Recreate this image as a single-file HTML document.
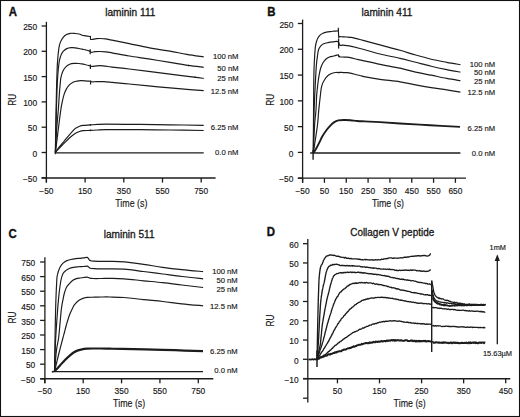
<!DOCTYPE html>
<html><head><meta charset="utf-8"><style>
html,body{margin:0;padding:0;background:#fff;}
body{width:520px;height:417px;overflow:hidden;}
svg{display:block;}
svg text{font-family:"Liberation Sans", sans-serif;}
</style></head><body>
<svg width="520" height="417" viewBox="0 0 520 417">
<rect x="0" y="0" width="520" height="417" fill="#fff"/>
<rect x="0.5" y="0.5" width="519" height="416" fill="none" stroke="#111" stroke-width="1.1"/>
<line x1="46.40" y1="21.80" x2="46.40" y2="182.60" stroke="#1c1c1c" stroke-width="1.30"/>
<line x1="41.60" y1="178.00" x2="215.60" y2="178.00" stroke="#1c1c1c" stroke-width="1.30"/>
<line x1="41.60" y1="26.00" x2="46.40" y2="26.00" stroke="#1c1c1c" stroke-width="1.30"/>
<text transform="translate(23.15,30.14) scale(1.000,1)" font-size="8.40" font-weight="normal" fill="#161616" stroke="#161616" stroke-width="0.15">250</text>
<line x1="41.60" y1="51.30" x2="46.40" y2="51.30" stroke="#1c1c1c" stroke-width="1.30"/>
<text transform="translate(23.15,55.44) scale(1.000,1)" font-size="8.40" font-weight="normal" fill="#161616" stroke="#161616" stroke-width="0.15">200</text>
<line x1="41.60" y1="76.60" x2="46.40" y2="76.60" stroke="#1c1c1c" stroke-width="1.30"/>
<text transform="translate(23.15,80.74) scale(1.000,1)" font-size="8.40" font-weight="normal" fill="#161616" stroke="#161616" stroke-width="0.15">150</text>
<line x1="41.60" y1="101.90" x2="46.40" y2="101.90" stroke="#1c1c1c" stroke-width="1.30"/>
<text transform="translate(23.15,106.04) scale(1.000,1)" font-size="8.40" font-weight="normal" fill="#161616" stroke="#161616" stroke-width="0.15">100</text>
<line x1="41.60" y1="127.20" x2="46.40" y2="127.20" stroke="#1c1c1c" stroke-width="1.30"/>
<text transform="translate(27.81,131.34) scale(1.000,1)" font-size="8.40" font-weight="normal" fill="#161616" stroke="#161616" stroke-width="0.15">50</text>
<line x1="41.60" y1="152.50" x2="46.40" y2="152.50" stroke="#1c1c1c" stroke-width="1.30"/>
<text transform="translate(32.47,156.64) scale(1.000,1)" font-size="8.40" font-weight="normal" fill="#161616" stroke="#161616" stroke-width="0.15">0</text>
<line x1="41.60" y1="177.80" x2="46.40" y2="177.80" stroke="#1c1c1c" stroke-width="1.30"/>
<text transform="translate(22.90,181.94) scale(1.000,1)" font-size="8.40" font-weight="normal" fill="#161616" stroke="#161616" stroke-width="0.15">&#8722;50</text>
<line x1="46.40" y1="178.00" x2="46.40" y2="182.60" stroke="#1c1c1c" stroke-width="1.30"/>
<text transform="translate(39.24,193.54) scale(1.000,1)" font-size="8.40" font-weight="normal" fill="#161616" stroke="#161616" stroke-width="0.15">&#8722;50</text>
<line x1="85.10" y1="178.00" x2="85.10" y2="182.60" stroke="#1c1c1c" stroke-width="1.30"/>
<text transform="translate(77.96,193.54) scale(1.000,1)" font-size="8.40" font-weight="normal" fill="#161616" stroke="#161616" stroke-width="0.15">150</text>
<line x1="123.80" y1="178.00" x2="123.80" y2="182.60" stroke="#1c1c1c" stroke-width="1.30"/>
<text transform="translate(116.81,193.54) scale(1.000,1)" font-size="8.40" font-weight="normal" fill="#161616" stroke="#161616" stroke-width="0.15">350</text>
<line x1="162.50" y1="178.00" x2="162.50" y2="182.60" stroke="#1c1c1c" stroke-width="1.30"/>
<text transform="translate(155.51,193.54) scale(1.000,1)" font-size="8.40" font-weight="normal" fill="#161616" stroke="#161616" stroke-width="0.15">550</text>
<line x1="201.20" y1="178.00" x2="201.20" y2="182.60" stroke="#1c1c1c" stroke-width="1.30"/>
<text transform="translate(194.17,193.54) scale(1.000,1)" font-size="8.40" font-weight="normal" fill="#161616" stroke="#161616" stroke-width="0.15">750</text>
<text transform="translate(8.71,15.81) scale(0.960,1)" font-size="11.90" font-weight="bold" fill="#111" stroke="#111" stroke-width="0.35">A</text>
<text transform="translate(105.24,15.66) scale(1.000,1)" font-size="10.10" font-weight="normal" fill="#161616" stroke="#161616" stroke-width="0.30">laminin 111</text>
<text transform="translate(115.22,206.93) scale(0.860,1)" font-size="10.30" font-weight="normal" fill="#161616" stroke="#161616" stroke-width="0.15">Time (s)</text>
<text transform="translate(12.10,99.80) rotate(-90) scale(0.800,1)" x="-7.51" y="3.59" font-size="10.40" fill="#161616" stroke="#161616" stroke-width="0.15">RU</text>
<path d="M55.40,152.60 C55.45,148.83 55.58,137.10 55.70,130.00 C55.82,122.90 55.97,116.67 56.10,110.00 C56.23,103.33 56.33,96.67 56.50,90.00 C56.67,83.33 56.88,75.33 57.10,70.00 C57.32,64.67 57.50,61.65 57.80,58.00 C58.10,54.35 58.48,50.70 58.90,48.10 C59.32,45.50 59.58,44.18 60.30,42.40 C61.02,40.62 62.17,38.70 63.20,37.40 C64.23,36.10 65.30,35.28 66.50,34.60 C67.70,33.92 68.98,33.48 70.40,33.30 C71.82,33.12 73.40,33.33 75.00,33.50 C76.60,33.67 78.83,34.02 80.00,34.30 C81.17,34.58 81.07,34.95 82.00,35.20 C82.93,35.45 84.28,35.58 85.60,35.80 C86.92,36.02 89.08,36.38 89.90,36.50 C90.72,36.62 90.40,36.05 90.50,36.50 C90.60,36.95 90.23,38.72 90.50,39.20 C90.77,39.68 91.12,39.48 92.10,39.40 C93.08,39.32 94.97,38.85 96.40,38.70 C97.83,38.55 99.15,38.47 100.70,38.50 C102.25,38.53 103.82,38.62 105.70,38.90 C107.58,39.18 108.08,39.42 112.00,40.20 C115.92,40.98 123.12,42.35 129.20,43.60 C135.28,44.85 141.70,46.43 148.50,47.70 C155.30,48.97 163.62,50.10 170.00,51.20 C176.38,52.30 181.18,53.37 186.80,54.30 C192.42,55.23 200.88,56.38 203.70,56.80" fill="none" stroke="#1c1c1c" stroke-width="1.18" stroke-linejoin="round" stroke-linecap="butt"/>
<path d="M55.40,152.60 C55.48,148.83 55.73,137.10 55.90,130.00 C56.07,122.90 56.22,116.67 56.40,110.00 C56.58,103.33 56.77,95.83 57.00,90.00 C57.23,84.17 57.47,79.50 57.80,75.00 C58.13,70.50 58.60,65.92 59.00,63.00 C59.40,60.08 59.78,59.00 60.20,57.50 C60.62,56.00 60.97,55.05 61.50,54.00 C62.03,52.95 62.52,52.10 63.40,51.20 C64.28,50.30 65.52,49.18 66.80,48.60 C68.08,48.02 69.73,47.83 71.10,47.70 C72.47,47.57 73.18,47.55 75.00,47.80 C76.82,48.05 80.23,48.85 82.00,49.20 C83.77,49.55 84.40,49.62 85.60,49.90 C86.80,50.18 88.23,50.50 89.20,50.90 C90.17,51.30 90.43,52.17 91.40,52.30 C92.37,52.43 93.57,51.83 95.00,51.70 C96.43,51.57 98.22,51.48 100.00,51.50 C101.78,51.52 103.70,51.58 105.70,51.80 C107.70,52.02 108.08,52.10 112.00,52.80 C115.92,53.50 123.12,54.98 129.20,56.00 C135.28,57.02 141.70,57.83 148.50,58.90 C155.30,59.97 163.42,61.32 170.00,62.40 C176.58,63.48 182.38,64.58 188.00,65.40 C193.62,66.22 201.08,66.98 203.70,67.30" fill="none" stroke="#1c1c1c" stroke-width="1.18" stroke-linejoin="round" stroke-linecap="butt"/>
<path d="M55.40,152.60 C55.60,148.83 56.12,137.10 56.60,130.00 C57.08,122.90 57.82,116.33 58.30,110.00 C58.78,103.67 59.18,96.33 59.50,92.00 C59.82,87.67 59.95,86.47 60.20,84.00 C60.45,81.53 60.50,79.43 61.00,77.20 C61.50,74.97 62.35,72.35 63.20,70.60 C64.05,68.85 65.02,67.75 66.10,66.70 C67.18,65.65 68.38,64.85 69.70,64.30 C71.02,63.75 72.45,63.53 74.00,63.40 C75.55,63.27 77.67,63.42 79.00,63.50 C80.33,63.58 80.90,63.70 82.00,63.90 C83.10,64.10 84.40,64.42 85.60,64.70 C86.80,64.98 88.12,65.32 89.20,65.60 C90.28,65.88 90.90,66.35 92.10,66.40 C93.30,66.45 94.97,66.02 96.40,65.90 C97.83,65.78 99.15,65.65 100.70,65.70 C102.25,65.75 103.82,65.97 105.70,66.20 C107.58,66.43 108.08,66.63 112.00,67.10 C115.92,67.57 123.12,68.28 129.20,69.00 C135.28,69.72 141.70,70.55 148.50,71.40 C155.30,72.25 162.42,73.15 170.00,74.10 C177.58,75.05 188.38,76.38 194.00,77.10 C199.62,77.82 202.08,78.18 203.70,78.40" fill="none" stroke="#1c1c1c" stroke-width="1.18" stroke-linejoin="round" stroke-linecap="butt"/>
<path d="M55.40,152.60 C55.87,148.83 57.30,137.10 58.20,130.00 C59.10,122.90 60.12,114.73 60.80,110.00 C61.48,105.27 61.75,104.20 62.30,101.60 C62.85,99.00 63.45,96.43 64.10,94.40 C64.75,92.37 65.37,90.93 66.20,89.40 C67.03,87.87 68.03,86.37 69.10,85.20 C70.17,84.03 71.28,83.08 72.60,82.40 C73.92,81.72 75.68,81.40 77.00,81.10 C78.32,80.80 79.07,80.65 80.50,80.60 C81.93,80.55 84.15,80.70 85.60,80.80 C87.05,80.90 88.00,81.03 89.20,81.20 C90.40,81.37 91.60,81.73 92.80,81.80 C94.00,81.87 94.60,81.63 96.40,81.60 C98.20,81.57 101.00,81.48 103.60,81.60 C106.20,81.72 107.73,81.90 112.00,82.30 C116.27,82.70 123.12,83.40 129.20,84.00 C135.28,84.60 141.70,85.25 148.50,85.90 C155.30,86.55 163.60,87.32 170.00,87.90 C176.40,88.48 181.28,88.93 186.90,89.40 C192.52,89.87 200.90,90.48 203.70,90.70" fill="none" stroke="#1c1c1c" stroke-width="1.18" stroke-linejoin="round" stroke-linecap="butt"/>
<path d="M55.40,152.40 C55.93,151.63 57.17,149.65 58.60,147.80 C60.03,145.95 62.20,143.47 64.00,141.30 C65.80,139.13 67.60,136.87 69.40,134.80 C71.20,132.73 73.62,130.07 74.80,128.90 C75.98,127.73 75.70,128.25 76.50,127.80 C77.30,127.35 78.48,126.60 79.60,126.20 C80.72,125.80 81.40,125.62 83.20,125.40 C85.00,125.18 88.00,125.07 90.40,124.90 C92.80,124.73 95.00,124.52 97.60,124.40 C100.20,124.28 98.93,124.20 106.00,124.20 C113.07,124.20 129.33,124.30 140.00,124.40 C150.67,124.50 159.38,124.63 170.00,124.80 C180.62,124.97 198.08,125.30 203.70,125.40" fill="none" stroke="#1c1c1c" stroke-width="1.18" stroke-linejoin="round" stroke-linecap="butt"/>
<path d="M55.40,152.40 C55.93,151.80 57.17,150.30 58.60,148.80 C60.03,147.30 62.20,145.20 64.00,143.40 C65.80,141.60 67.60,139.62 69.40,138.00 C71.20,136.38 73.10,134.78 74.80,133.70 C76.50,132.62 78.20,132.00 79.60,131.50 C81.00,131.00 81.40,130.88 83.20,130.70 C85.00,130.52 88.00,130.52 90.40,130.40 C92.80,130.28 95.00,130.12 97.60,130.00 C100.20,129.88 98.93,129.75 106.00,129.70 C113.07,129.65 129.33,129.65 140.00,129.70 C150.67,129.75 159.38,129.87 170.00,130.00 C180.62,130.13 198.08,130.42 203.70,130.50" fill="none" stroke="#1c1c1c" stroke-width="1.18" stroke-linejoin="round" stroke-linecap="butt"/>
<line x1="90.20" y1="49.30" x2="90.20" y2="54.30" stroke="#1c1c1c" stroke-width="1.20"/>
<line x1="90.40" y1="64.40" x2="90.40" y2="69.00" stroke="#1c1c1c" stroke-width="1.20"/>
<line x1="90.60" y1="80.50" x2="90.60" y2="84.50" stroke="#1c1c1c" stroke-width="1.20"/>
<circle cx="90.40" cy="130.40" r="0.8" fill="#1c1c1c"/>
<circle cx="90.40" cy="124.90" r="0.8" fill="#1c1c1c"/>
<circle cx="188.60" cy="65.60" r="0.8" fill="#1c1c1c"/>
<circle cx="195.00" cy="77.30" r="0.8" fill="#1c1c1c"/>
<line x1="55.40" y1="152.80" x2="203.70" y2="152.80" stroke="#1c1c1c" stroke-width="1.30"/>
<line x1="55.30" y1="151.50" x2="55.30" y2="154.30" stroke="#1c1c1c" stroke-width="1.20"/>
<text transform="translate(212.96,59.27) scale(0.970,1)" font-size="7.90" font-weight="normal" fill="#161616" stroke="#161616" stroke-width="0.15">100 nM</text>
<text transform="translate(217.25,70.56) scale(0.970,1)" font-size="7.90" font-weight="normal" fill="#161616" stroke="#161616" stroke-width="0.15">50 nM</text>
<text transform="translate(217.25,80.97) scale(0.970,1)" font-size="7.90" font-weight="normal" fill="#161616" stroke="#161616" stroke-width="0.15">25 nM</text>
<text transform="translate(210.85,93.77) scale(0.970,1)" font-size="7.90" font-weight="normal" fill="#161616" stroke="#161616" stroke-width="0.15">12.5 nM</text>
<text transform="translate(210.85,130.36) scale(0.970,1)" font-size="7.90" font-weight="normal" fill="#161616" stroke="#161616" stroke-width="0.15">6.25 nM</text>
<text transform="translate(215.10,154.86) scale(0.970,1)" font-size="7.90" font-weight="normal" fill="#161616" stroke="#161616" stroke-width="0.15">0.0 nM</text>
<line x1="302.60" y1="19.60" x2="302.60" y2="182.60" stroke="#1c1c1c" stroke-width="1.30"/>
<line x1="297.90" y1="178.20" x2="466.00" y2="178.20" stroke="#1c1c1c" stroke-width="1.30"/>
<line x1="297.80" y1="23.50" x2="302.60" y2="23.50" stroke="#1c1c1c" stroke-width="1.30"/>
<text transform="translate(279.45,27.64) scale(1.000,1)" font-size="8.40" font-weight="normal" fill="#161616" stroke="#161616" stroke-width="0.15">250</text>
<line x1="297.80" y1="49.28" x2="302.60" y2="49.28" stroke="#1c1c1c" stroke-width="1.30"/>
<text transform="translate(279.45,53.42) scale(1.000,1)" font-size="8.40" font-weight="normal" fill="#161616" stroke="#161616" stroke-width="0.15">200</text>
<line x1="297.80" y1="75.06" x2="302.60" y2="75.06" stroke="#1c1c1c" stroke-width="1.30"/>
<text transform="translate(279.45,79.20) scale(1.000,1)" font-size="8.40" font-weight="normal" fill="#161616" stroke="#161616" stroke-width="0.15">150</text>
<line x1="297.80" y1="100.84" x2="302.60" y2="100.84" stroke="#1c1c1c" stroke-width="1.30"/>
<text transform="translate(279.45,104.98) scale(1.000,1)" font-size="8.40" font-weight="normal" fill="#161616" stroke="#161616" stroke-width="0.15">100</text>
<line x1="297.80" y1="126.62" x2="302.60" y2="126.62" stroke="#1c1c1c" stroke-width="1.30"/>
<text transform="translate(284.11,130.76) scale(1.000,1)" font-size="8.40" font-weight="normal" fill="#161616" stroke="#161616" stroke-width="0.15">50</text>
<line x1="297.80" y1="152.40" x2="302.60" y2="152.40" stroke="#1c1c1c" stroke-width="1.30"/>
<text transform="translate(288.77,156.54) scale(1.000,1)" font-size="8.40" font-weight="normal" fill="#161616" stroke="#161616" stroke-width="0.15">0</text>
<line x1="297.80" y1="178.18" x2="302.60" y2="178.18" stroke="#1c1c1c" stroke-width="1.30"/>
<text transform="translate(279.20,182.32) scale(1.000,1)" font-size="8.40" font-weight="normal" fill="#161616" stroke="#161616" stroke-width="0.15">&#8722;50</text>
<line x1="302.60" y1="178.20" x2="302.60" y2="182.80" stroke="#1c1c1c" stroke-width="1.30"/>
<text transform="translate(295.44,193.54) scale(1.000,1)" font-size="8.40" font-weight="normal" fill="#161616" stroke="#161616" stroke-width="0.15">&#8722;50</text>
<line x1="324.43" y1="178.20" x2="324.43" y2="182.80" stroke="#1c1c1c" stroke-width="1.30"/>
<text transform="translate(319.77,193.54) scale(1.000,1)" font-size="8.40" font-weight="normal" fill="#161616" stroke="#161616" stroke-width="0.15">50</text>
<line x1="346.26" y1="178.20" x2="346.26" y2="182.80" stroke="#1c1c1c" stroke-width="1.30"/>
<text transform="translate(339.12,193.54) scale(1.000,1)" font-size="8.40" font-weight="normal" fill="#161616" stroke="#161616" stroke-width="0.15">150</text>
<line x1="368.09" y1="178.20" x2="368.09" y2="182.80" stroke="#1c1c1c" stroke-width="1.30"/>
<text transform="translate(361.06,193.54) scale(1.000,1)" font-size="8.40" font-weight="normal" fill="#161616" stroke="#161616" stroke-width="0.15">250</text>
<line x1="389.92" y1="178.20" x2="389.92" y2="182.80" stroke="#1c1c1c" stroke-width="1.30"/>
<text transform="translate(382.93,193.54) scale(1.000,1)" font-size="8.40" font-weight="normal" fill="#161616" stroke="#161616" stroke-width="0.15">350</text>
<line x1="411.75" y1="178.20" x2="411.75" y2="182.80" stroke="#1c1c1c" stroke-width="1.30"/>
<text transform="translate(404.82,193.54) scale(1.000,1)" font-size="8.40" font-weight="normal" fill="#161616" stroke="#161616" stroke-width="0.15">450</text>
<line x1="433.58" y1="178.20" x2="433.58" y2="182.80" stroke="#1c1c1c" stroke-width="1.30"/>
<text transform="translate(426.59,193.54) scale(1.000,1)" font-size="8.40" font-weight="normal" fill="#161616" stroke="#161616" stroke-width="0.15">550</text>
<line x1="455.41" y1="178.20" x2="455.41" y2="182.80" stroke="#1c1c1c" stroke-width="1.30"/>
<text transform="translate(448.38,193.54) scale(1.000,1)" font-size="8.40" font-weight="normal" fill="#161616" stroke="#161616" stroke-width="0.15">650</text>
<text transform="translate(267.16,15.81) scale(0.960,1)" font-size="11.90" font-weight="bold" fill="#111" stroke="#111" stroke-width="0.35">B</text>
<text transform="translate(361.54,15.66) scale(1.000,1)" font-size="10.10" font-weight="normal" fill="#161616" stroke="#161616" stroke-width="0.30">laminin 411</text>
<text transform="translate(371.92,207.03) scale(0.860,1)" font-size="10.30" font-weight="normal" fill="#161616" stroke="#161616" stroke-width="0.15">Time (s)</text>
<text transform="translate(270.80,99.80) rotate(-90) scale(0.800,1)" x="-7.51" y="3.59" font-size="10.40" fill="#161616" stroke="#161616" stroke-width="0.15">RU</text>
<path d="M313.30,152.80 C313.33,147.33 313.43,130.47 313.50,120.00 C313.57,109.53 313.62,98.33 313.70,90.00 C313.78,81.67 313.83,75.83 314.00,70.00 C314.17,64.17 314.47,58.90 314.70,55.00 C314.93,51.10 315.10,48.85 315.40,46.60 C315.70,44.35 316.08,42.93 316.50,41.50 C316.92,40.07 317.30,39.07 317.90,38.00 C318.50,36.93 319.27,35.88 320.10,35.10 C320.93,34.32 321.83,33.78 322.90,33.30 C323.97,32.82 325.05,32.50 326.50,32.20 C327.95,31.90 330.35,31.68 331.60,31.50 C332.85,31.32 332.95,31.22 334.00,31.10 C335.05,30.98 337.18,31.25 337.90,30.80 C338.62,30.35 338.17,27.37 338.30,28.40 C338.43,29.43 338.52,35.62 338.70,37.00 C338.88,38.38 338.75,36.73 339.40,36.70 C340.05,36.67 341.33,36.75 342.60,36.80 C343.87,36.85 345.55,36.90 347.00,37.00 C348.45,37.10 349.87,37.17 351.30,37.40 C352.73,37.63 354.17,38.05 355.60,38.40 C357.03,38.75 358.50,39.13 359.90,39.50 C361.30,39.87 360.65,39.70 364.00,40.60 C367.35,41.50 374.00,43.28 380.00,44.90 C386.00,46.52 394.07,48.62 400.00,50.30 C405.93,51.98 410.40,53.52 415.60,55.00 C420.80,56.48 426.00,57.98 431.20,59.20 C436.40,60.42 441.93,61.38 446.80,62.30 C451.67,63.22 458.13,64.30 460.40,64.70" fill="none" stroke="#1c1c1c" stroke-width="1.18" stroke-linejoin="round" stroke-linecap="butt"/>
<path d="M313.30,152.80 C313.38,147.33 313.60,128.80 313.80,120.00 C314.00,111.20 314.23,106.33 314.50,100.00 C314.77,93.67 315.08,87.83 315.40,82.00 C315.72,76.17 316.03,69.50 316.40,65.00 C316.77,60.50 317.23,57.58 317.60,55.00 C317.97,52.42 318.07,51.02 318.60,49.50 C319.13,47.98 319.95,46.87 320.80,45.90 C321.65,44.93 322.50,44.25 323.70,43.70 C324.90,43.15 326.45,42.90 328.00,42.60 C329.55,42.30 331.33,42.07 333.00,41.90 C334.67,41.73 336.87,41.05 338.00,41.60 C339.13,42.15 339.03,44.60 339.80,45.20 C340.57,45.80 341.40,45.13 342.60,45.20 C343.80,45.27 345.55,45.42 347.00,45.60 C348.45,45.78 349.87,46.00 351.30,46.30 C352.73,46.60 354.17,47.03 355.60,47.40 C357.03,47.77 358.50,48.15 359.90,48.50 C361.30,48.85 360.65,48.58 364.00,49.50 C367.35,50.42 374.00,52.52 380.00,54.00 C386.00,55.48 394.07,57.02 400.00,58.40 C405.93,59.78 410.40,61.00 415.60,62.30 C420.80,63.60 426.00,64.98 431.20,66.20 C436.40,67.42 441.93,68.60 446.80,69.60 C451.67,70.60 458.13,71.77 460.40,72.20" fill="none" stroke="#1c1c1c" stroke-width="1.18" stroke-linejoin="round" stroke-linecap="butt"/>
<path d="M313.30,152.80 C313.52,148.17 314.15,132.13 314.60,125.00 C315.05,117.87 315.67,114.83 316.00,110.00 C316.33,105.17 316.37,99.67 316.60,96.00 C316.83,92.33 317.13,90.50 317.40,88.00 C317.67,85.50 317.87,83.40 318.20,81.00 C318.53,78.60 318.97,75.80 319.40,73.60 C319.83,71.40 320.20,69.60 320.80,67.80 C321.40,66.00 322.17,64.23 323.00,62.80 C323.83,61.37 324.73,60.17 325.80,59.20 C326.87,58.23 328.08,57.53 329.40,57.00 C330.72,56.47 332.33,56.33 333.70,56.00 C335.07,55.67 336.83,55.20 337.60,55.00 C338.37,54.80 338.00,54.50 338.30,54.80 C338.60,55.10 338.68,56.43 339.40,56.80 C340.12,57.17 341.33,56.93 342.60,57.00 C343.87,57.07 345.55,57.05 347.00,57.20 C348.45,57.35 349.87,57.60 351.30,57.90 C352.73,58.20 354.17,58.67 355.60,59.00 C357.03,59.33 358.50,59.60 359.90,59.90 C361.30,60.20 360.65,60.05 364.00,60.80 C367.35,61.55 374.00,63.17 380.00,64.40 C386.00,65.63 394.07,66.92 400.00,68.20 C405.93,69.48 410.40,70.93 415.60,72.10 C420.80,73.27 426.00,74.15 431.20,75.20 C436.40,76.25 441.93,77.48 446.80,78.40 C451.67,79.32 458.13,80.32 460.40,80.70" fill="none" stroke="#1c1c1c" stroke-width="1.18" stroke-linejoin="round" stroke-linecap="butt"/>
<path d="M313.30,152.80 C313.68,150.33 314.88,142.80 315.60,138.00 C316.32,133.20 317.12,128.17 317.60,124.00 C318.08,119.83 318.22,116.17 318.50,113.00 C318.78,109.83 319.00,107.83 319.30,105.00 C319.60,102.17 319.98,98.73 320.30,96.00 C320.62,93.27 320.82,90.70 321.20,88.60 C321.58,86.50 322.03,84.87 322.60,83.40 C323.17,81.93 324.03,80.75 324.60,79.80 C325.17,78.85 325.32,78.50 326.00,77.70 C326.68,76.90 327.65,75.75 328.70,75.00 C329.75,74.25 331.10,73.62 332.30,73.20 C333.50,72.78 334.82,72.62 335.90,72.50 C336.98,72.38 337.92,72.53 338.80,72.50 C339.68,72.47 339.83,72.27 341.20,72.30 C342.57,72.33 345.32,72.52 347.00,72.70 C348.68,72.88 349.87,73.10 351.30,73.40 C352.73,73.70 354.17,74.15 355.60,74.50 C357.03,74.85 358.50,75.15 359.90,75.50 C361.30,75.85 360.65,75.97 364.00,76.60 C367.35,77.23 374.00,78.43 380.00,79.30 C386.00,80.17 394.07,80.87 400.00,81.80 C405.93,82.73 410.40,83.93 415.60,84.90 C420.80,85.87 426.00,86.77 431.20,87.60 C436.40,88.43 441.93,89.15 446.80,89.90 C451.67,90.65 458.13,91.73 460.40,92.10" fill="none" stroke="#1c1c1c" stroke-width="1.18" stroke-linejoin="round" stroke-linecap="butt"/>
<path d="M313.60,152.80 C314.10,151.97 315.62,149.58 316.60,147.80 C317.58,146.02 318.53,144.02 319.50,142.10 C320.47,140.18 321.28,138.23 322.40,136.30 C323.52,134.37 324.92,132.25 326.20,130.50 C327.48,128.75 328.82,127.15 330.10,125.80 C331.38,124.45 332.53,123.30 333.90,122.40 C335.27,121.50 336.58,120.80 338.30,120.40 C340.02,120.00 342.18,120.03 344.20,120.00 C346.22,119.97 348.22,120.03 350.40,120.20 C352.58,120.37 354.87,120.80 357.30,121.00 C359.73,121.20 361.22,121.22 365.00,121.40 C368.78,121.58 374.17,121.75 380.00,122.10 C385.83,122.45 391.67,122.98 400.00,123.50 C408.33,124.02 420.00,124.63 430.00,125.20 C440.00,125.77 455.00,126.62 460.00,126.90" fill="none" stroke="#1c1c1c" stroke-width="1.90" stroke-linejoin="round" stroke-linecap="butt"/>
<line x1="338.60" y1="38.50" x2="338.60" y2="48.60" stroke="#1c1c1c" stroke-width="1.30"/>
<circle cx="338.90" cy="56.30" r="0.85" fill="#1c1c1c"/>
<circle cx="338.80" cy="72.60" r="0.85" fill="#1c1c1c"/>
<line x1="310.20" y1="153.00" x2="460.40" y2="153.00" stroke="#1c1c1c" stroke-width="1.30"/>
<line x1="313.10" y1="150.00" x2="313.10" y2="159.80" stroke="#1c1c1c" stroke-width="1.40"/>
<text transform="translate(469.66,67.06) scale(0.970,1)" font-size="7.90" font-weight="normal" fill="#161616" stroke="#161616" stroke-width="0.15">100 nM</text>
<text transform="translate(473.95,75.47) scale(0.970,1)" font-size="7.90" font-weight="normal" fill="#161616" stroke="#161616" stroke-width="0.15">50 nM</text>
<text transform="translate(473.95,83.97) scale(0.970,1)" font-size="7.90" font-weight="normal" fill="#161616" stroke="#161616" stroke-width="0.15">25 nM</text>
<text transform="translate(467.55,95.06) scale(0.970,1)" font-size="7.90" font-weight="normal" fill="#161616" stroke="#161616" stroke-width="0.15">12.5 nM</text>
<text transform="translate(467.55,131.06) scale(0.970,1)" font-size="7.90" font-weight="normal" fill="#161616" stroke="#161616" stroke-width="0.15">6.25 nM</text>
<text transform="translate(471.80,156.26) scale(0.970,1)" font-size="7.90" font-weight="normal" fill="#161616" stroke="#161616" stroke-width="0.15">0.0 nM</text>
<line x1="44.90" y1="257.30" x2="44.90" y2="383.20" stroke="#1c1c1c" stroke-width="1.30"/>
<line x1="40.30" y1="378.75" x2="213.30" y2="378.75" stroke="#1c1c1c" stroke-width="1.30"/>
<line x1="40.10" y1="262.00" x2="44.90" y2="262.00" stroke="#1c1c1c" stroke-width="1.30"/>
<text transform="translate(21.25,266.24) scale(1.000,1)" font-size="8.40" font-weight="normal" fill="#161616" stroke="#161616" stroke-width="0.15">750</text>
<line x1="40.10" y1="276.60" x2="44.90" y2="276.60" stroke="#1c1c1c" stroke-width="1.30"/>
<text transform="translate(21.25,280.84) scale(1.000,1)" font-size="8.40" font-weight="normal" fill="#161616" stroke="#161616" stroke-width="0.15">650</text>
<line x1="40.10" y1="291.20" x2="44.90" y2="291.20" stroke="#1c1c1c" stroke-width="1.30"/>
<text transform="translate(21.25,295.44) scale(1.000,1)" font-size="8.40" font-weight="normal" fill="#161616" stroke="#161616" stroke-width="0.15">550</text>
<line x1="40.10" y1="305.80" x2="44.90" y2="305.80" stroke="#1c1c1c" stroke-width="1.30"/>
<text transform="translate(21.25,310.04) scale(1.000,1)" font-size="8.40" font-weight="normal" fill="#161616" stroke="#161616" stroke-width="0.15">450</text>
<line x1="40.10" y1="320.40" x2="44.90" y2="320.40" stroke="#1c1c1c" stroke-width="1.30"/>
<text transform="translate(21.25,324.64) scale(1.000,1)" font-size="8.40" font-weight="normal" fill="#161616" stroke="#161616" stroke-width="0.15">350</text>
<line x1="40.10" y1="335.00" x2="44.90" y2="335.00" stroke="#1c1c1c" stroke-width="1.30"/>
<text transform="translate(21.25,339.24) scale(1.000,1)" font-size="8.40" font-weight="normal" fill="#161616" stroke="#161616" stroke-width="0.15">250</text>
<line x1="40.10" y1="349.60" x2="44.90" y2="349.60" stroke="#1c1c1c" stroke-width="1.30"/>
<text transform="translate(21.25,353.84) scale(1.000,1)" font-size="8.40" font-weight="normal" fill="#161616" stroke="#161616" stroke-width="0.15">150</text>
<line x1="40.10" y1="364.20" x2="44.90" y2="364.20" stroke="#1c1c1c" stroke-width="1.30"/>
<text transform="translate(25.91,368.44) scale(1.000,1)" font-size="8.40" font-weight="normal" fill="#161616" stroke="#161616" stroke-width="0.15">50</text>
<line x1="40.10" y1="378.80" x2="44.90" y2="378.80" stroke="#1c1c1c" stroke-width="1.30"/>
<text transform="translate(21.00,383.04) scale(1.000,1)" font-size="8.40" font-weight="normal" fill="#161616" stroke="#161616" stroke-width="0.15">&#8722;50</text>
<line x1="44.80" y1="378.75" x2="44.80" y2="383.35" stroke="#1c1c1c" stroke-width="1.30"/>
<text transform="translate(37.64,394.14) scale(1.000,1)" font-size="8.40" font-weight="normal" fill="#161616" stroke="#161616" stroke-width="0.15">&#8722;50</text>
<line x1="83.18" y1="378.75" x2="83.18" y2="383.35" stroke="#1c1c1c" stroke-width="1.30"/>
<text transform="translate(76.04,394.14) scale(1.000,1)" font-size="8.40" font-weight="normal" fill="#161616" stroke="#161616" stroke-width="0.15">150</text>
<line x1="121.55" y1="378.75" x2="121.55" y2="383.35" stroke="#1c1c1c" stroke-width="1.30"/>
<text transform="translate(114.56,394.14) scale(1.000,1)" font-size="8.40" font-weight="normal" fill="#161616" stroke="#161616" stroke-width="0.15">350</text>
<line x1="159.93" y1="378.75" x2="159.93" y2="383.35" stroke="#1c1c1c" stroke-width="1.30"/>
<text transform="translate(152.94,394.14) scale(1.000,1)" font-size="8.40" font-weight="normal" fill="#161616" stroke="#161616" stroke-width="0.15">550</text>
<line x1="198.30" y1="378.75" x2="198.30" y2="383.35" stroke="#1c1c1c" stroke-width="1.30"/>
<text transform="translate(191.27,394.14) scale(1.000,1)" font-size="8.40" font-weight="normal" fill="#161616" stroke="#161616" stroke-width="0.15">750</text>
<text transform="translate(8.54,237.56) scale(0.960,1)" font-size="11.90" font-weight="bold" fill="#111" stroke="#111" stroke-width="0.35">C</text>
<text transform="translate(103.64,237.86) scale(1.000,1)" font-size="10.10" font-weight="normal" fill="#161616" stroke="#161616" stroke-width="0.30">laminin 511</text>
<text transform="translate(113.12,407.23) scale(0.860,1)" font-size="10.30" font-weight="normal" fill="#161616" stroke="#161616" stroke-width="0.15">Time (s)</text>
<text transform="translate(12.00,317.60) rotate(-90) scale(0.800,1)" x="-7.51" y="3.59" font-size="10.40" fill="#161616" stroke="#161616" stroke-width="0.15">RU</text>
<path d="M54.60,371.00 C54.67,365.83 54.83,350.17 55.00,340.00 C55.17,329.83 55.42,317.60 55.60,310.00 C55.78,302.40 55.90,299.40 56.10,294.40 C56.30,289.40 56.62,283.07 56.80,280.00 C56.98,276.93 56.92,277.50 57.20,276.00 C57.48,274.50 57.98,272.55 58.50,271.00 C59.02,269.45 59.58,267.97 60.30,266.70 C61.02,265.43 61.78,264.37 62.80,263.40 C63.82,262.43 65.08,261.55 66.40,260.90 C67.72,260.25 69.15,259.88 70.70,259.50 C72.25,259.12 74.15,258.80 75.70,258.60 C77.25,258.40 78.68,258.42 80.00,258.30 C81.32,258.18 82.40,258.05 83.60,257.90 C84.80,257.75 86.42,257.30 87.20,257.40 C87.98,257.50 87.88,258.02 88.30,258.50 C88.72,258.98 89.17,259.88 89.70,260.30 C90.23,260.72 90.72,260.85 91.50,261.00 C92.28,261.15 92.72,261.13 94.40,261.20 C96.08,261.27 99.00,261.37 101.60,261.40 C104.20,261.43 106.23,261.32 110.00,261.40 C113.77,261.48 118.62,261.40 124.20,261.90 C129.78,262.40 137.08,263.50 143.50,264.40 C149.92,265.30 156.30,266.43 162.70,267.30 C169.10,268.17 175.17,268.88 181.90,269.60 C188.63,270.32 199.57,271.27 203.10,271.60" fill="none" stroke="#1c1c1c" stroke-width="1.18" stroke-linejoin="round" stroke-linecap="butt"/>
<path d="M54.60,371.00 C54.77,365.83 55.10,350.17 55.60,340.00 C56.10,329.83 57.15,316.40 57.60,310.00 C58.05,303.60 58.00,304.80 58.30,301.60 C58.60,298.40 58.95,294.40 59.40,290.80 C59.85,287.20 60.43,282.82 61.00,280.00 C61.57,277.18 62.02,275.47 62.80,273.90 C63.58,272.33 64.62,271.50 65.70,270.60 C66.78,269.70 67.98,269.03 69.30,268.50 C70.62,267.97 72.17,267.68 73.60,267.40 C75.03,267.12 76.83,266.93 77.90,266.80 C78.97,266.67 79.05,266.65 80.00,266.60 C80.95,266.55 82.40,266.57 83.60,266.50 C84.80,266.43 86.37,266.10 87.20,266.20 C88.03,266.30 88.12,266.77 88.60,267.10 C89.08,267.43 89.13,267.93 90.10,268.20 C91.07,268.47 92.48,268.58 94.40,268.70 C96.32,268.82 99.00,268.88 101.60,268.90 C104.20,268.92 106.23,268.75 110.00,268.80 C113.77,268.85 118.62,268.75 124.20,269.20 C129.78,269.65 137.08,270.70 143.50,271.50 C149.92,272.30 156.30,273.17 162.70,274.00 C169.10,274.83 175.17,275.70 181.90,276.50 C188.63,277.30 199.57,278.42 203.10,278.80" fill="none" stroke="#1c1c1c" stroke-width="1.18" stroke-linejoin="round" stroke-linecap="butt"/>
<path d="M54.60,371.00 C54.92,367.50 55.83,355.50 56.50,350.00 C57.17,344.50 58.00,342.60 58.60,338.00 C59.20,333.40 59.62,327.40 60.10,322.40 C60.58,317.40 61.03,311.72 61.50,308.00 C61.97,304.28 62.42,302.60 62.90,300.10 C63.38,297.60 63.80,295.15 64.40,293.00 C65.00,290.85 65.67,288.77 66.50,287.20 C67.33,285.63 68.33,284.75 69.40,283.60 C70.47,282.45 71.72,281.13 72.90,280.30 C74.08,279.47 75.32,278.98 76.50,278.60 C77.68,278.22 78.82,278.18 80.00,278.00 C81.18,277.82 82.40,277.63 83.60,277.50 C84.80,277.37 86.23,277.12 87.20,277.20 C88.17,277.28 88.43,277.78 89.40,278.00 C90.37,278.22 90.97,278.42 93.00,278.50 C95.03,278.58 98.77,278.52 101.60,278.50 C104.43,278.48 106.23,278.35 110.00,278.40 C113.77,278.45 118.62,278.40 124.20,278.80 C129.78,279.20 137.08,280.15 143.50,280.80 C149.92,281.45 156.30,282.00 162.70,282.70 C169.10,283.40 175.17,284.20 181.90,285.00 C188.63,285.80 199.57,287.08 203.10,287.50" fill="none" stroke="#1c1c1c" stroke-width="1.18" stroke-linejoin="round" stroke-linecap="butt"/>
<path d="M54.60,371.00 C55.25,368.33 57.12,360.50 58.50,355.00 C59.88,349.50 61.92,341.75 62.90,338.00 C63.88,334.25 63.80,334.75 64.40,332.50 C65.00,330.25 65.67,327.38 66.50,324.50 C67.33,321.62 68.37,317.95 69.40,315.20 C70.43,312.45 71.93,309.65 72.70,308.00 C73.47,306.35 73.20,306.38 74.00,305.30 C74.80,304.22 76.35,302.52 77.50,301.50 C78.65,300.48 79.75,299.80 80.90,299.20 C82.05,298.60 83.35,298.20 84.40,297.90 C85.45,297.60 85.47,297.52 87.20,297.40 C88.93,297.28 92.38,297.27 94.80,297.20 C97.22,297.13 99.17,297.03 101.70,297.00 C104.23,296.97 106.25,296.92 110.00,297.00 C113.75,297.08 118.62,297.07 124.20,297.50 C129.78,297.93 137.08,298.93 143.50,299.60 C149.92,300.27 156.30,300.80 162.70,301.50 C169.10,302.20 175.17,303.08 181.90,303.80 C188.63,304.52 199.57,305.47 203.10,305.80" fill="none" stroke="#1c1c1c" stroke-width="1.18" stroke-linejoin="round" stroke-linecap="butt"/>
<path d="M54.60,371.20 C55.00,370.78 56.10,369.67 57.00,368.70 C57.90,367.73 58.67,366.85 60.00,365.40 C61.33,363.95 63.33,361.68 65.00,360.00 C66.67,358.32 68.50,356.60 70.00,355.30 C71.50,354.00 72.67,353.02 74.00,352.20 C75.33,351.38 76.67,350.88 78.00,350.40 C79.33,349.92 80.50,349.58 82.00,349.30 C83.50,349.02 85.17,348.83 87.00,348.70 C88.83,348.57 90.67,348.53 93.00,348.50 C95.33,348.47 98.17,348.47 101.00,348.50 C103.83,348.53 106.50,348.63 110.00,348.70 C113.50,348.77 116.17,348.80 122.00,348.90 C127.83,349.00 136.17,349.08 145.00,349.30 C153.83,349.52 165.33,349.88 175.00,350.20 C184.67,350.52 198.33,351.03 203.00,351.20" fill="none" stroke="#1c1c1c" stroke-width="2.20" stroke-linejoin="round" stroke-linecap="butt"/>
<line x1="54.00" y1="371.60" x2="203.00" y2="371.60" stroke="#1c1c1c" stroke-width="1.30"/>
<line x1="51.80" y1="372.00" x2="54.80" y2="371.20" stroke="#1c1c1c" stroke-width="1.50"/>
<text transform="translate(212.16,274.06) scale(0.970,1)" font-size="7.90" font-weight="normal" fill="#161616" stroke="#161616" stroke-width="0.15">100 nM</text>
<text transform="translate(216.45,282.76) scale(0.970,1)" font-size="7.90" font-weight="normal" fill="#161616" stroke="#161616" stroke-width="0.15">50 nM</text>
<text transform="translate(216.45,291.51) scale(0.970,1)" font-size="7.90" font-weight="normal" fill="#161616" stroke="#161616" stroke-width="0.15">25 nM</text>
<text transform="translate(210.05,308.51) scale(0.970,1)" font-size="7.90" font-weight="normal" fill="#161616" stroke="#161616" stroke-width="0.15">12.5 nM</text>
<text transform="translate(210.05,353.96) scale(0.970,1)" font-size="7.90" font-weight="normal" fill="#161616" stroke="#161616" stroke-width="0.15">6.25 nM</text>
<text transform="translate(214.30,373.16) scale(0.970,1)" font-size="7.90" font-weight="normal" fill="#161616" stroke="#161616" stroke-width="0.15">0.0 nM</text>
<line x1="307.80" y1="239.00" x2="307.80" y2="402.50" stroke="#1c1c1c" stroke-width="1.30"/>
<line x1="303.10" y1="378.75" x2="510.30" y2="378.75" stroke="#1c1c1c" stroke-width="1.30"/>
<line x1="303.00" y1="243.68" x2="307.80" y2="243.68" stroke="#1c1c1c" stroke-width="1.30"/>
<text transform="translate(289.31,247.92) scale(1.000,1)" font-size="8.40" font-weight="normal" fill="#161616" stroke="#161616" stroke-width="0.15">60</text>
<line x1="303.00" y1="262.95" x2="307.80" y2="262.95" stroke="#1c1c1c" stroke-width="1.30"/>
<text transform="translate(289.31,267.19) scale(1.000,1)" font-size="8.40" font-weight="normal" fill="#161616" stroke="#161616" stroke-width="0.15">50</text>
<line x1="303.00" y1="282.22" x2="307.80" y2="282.22" stroke="#1c1c1c" stroke-width="1.30"/>
<text transform="translate(289.31,286.46) scale(1.000,1)" font-size="8.40" font-weight="normal" fill="#161616" stroke="#161616" stroke-width="0.15">40</text>
<line x1="303.00" y1="301.49" x2="307.80" y2="301.49" stroke="#1c1c1c" stroke-width="1.30"/>
<text transform="translate(289.31,305.73) scale(1.000,1)" font-size="8.40" font-weight="normal" fill="#161616" stroke="#161616" stroke-width="0.15">30</text>
<line x1="303.00" y1="320.76" x2="307.80" y2="320.76" stroke="#1c1c1c" stroke-width="1.30"/>
<text transform="translate(289.31,325.00) scale(1.000,1)" font-size="8.40" font-weight="normal" fill="#161616" stroke="#161616" stroke-width="0.15">20</text>
<line x1="303.00" y1="340.03" x2="307.80" y2="340.03" stroke="#1c1c1c" stroke-width="1.30"/>
<text transform="translate(289.31,344.27) scale(1.000,1)" font-size="8.40" font-weight="normal" fill="#161616" stroke="#161616" stroke-width="0.15">10</text>
<line x1="303.00" y1="359.30" x2="307.80" y2="359.30" stroke="#1c1c1c" stroke-width="1.30"/>
<text transform="translate(293.97,363.54) scale(1.000,1)" font-size="8.40" font-weight="normal" fill="#161616" stroke="#161616" stroke-width="0.15">0</text>
<line x1="303.00" y1="378.57" x2="307.80" y2="378.57" stroke="#1c1c1c" stroke-width="1.30"/>
<text transform="translate(284.40,382.81) scale(1.000,1)" font-size="8.40" font-weight="normal" fill="#161616" stroke="#161616" stroke-width="0.15">&#8722;10</text>
<line x1="303.10" y1="398.20" x2="307.80" y2="398.20" stroke="#1c1c1c" stroke-width="1.30"/>
<line x1="337.44" y1="378.75" x2="337.44" y2="383.35" stroke="#1c1c1c" stroke-width="1.30"/>
<text transform="translate(332.77,394.14) scale(1.000,1)" font-size="8.40" font-weight="normal" fill="#161616" stroke="#161616" stroke-width="0.15">50</text>
<line x1="379.50" y1="378.75" x2="379.50" y2="383.35" stroke="#1c1c1c" stroke-width="1.30"/>
<text transform="translate(372.37,394.14) scale(1.000,1)" font-size="8.40" font-weight="normal" fill="#161616" stroke="#161616" stroke-width="0.15">150</text>
<line x1="421.57" y1="378.75" x2="421.57" y2="383.35" stroke="#1c1c1c" stroke-width="1.30"/>
<text transform="translate(414.54,394.14) scale(1.000,1)" font-size="8.40" font-weight="normal" fill="#161616" stroke="#161616" stroke-width="0.15">250</text>
<line x1="463.64" y1="378.75" x2="463.64" y2="383.35" stroke="#1c1c1c" stroke-width="1.30"/>
<text transform="translate(456.65,394.14) scale(1.000,1)" font-size="8.40" font-weight="normal" fill="#161616" stroke="#161616" stroke-width="0.15">350</text>
<line x1="505.71" y1="378.75" x2="505.71" y2="383.35" stroke="#1c1c1c" stroke-width="1.30"/>
<text transform="translate(498.78,394.14) scale(1.000,1)" font-size="8.40" font-weight="normal" fill="#161616" stroke="#161616" stroke-width="0.15">450</text>
<text transform="translate(266.86,235.81) scale(0.960,1)" font-size="11.90" font-weight="bold" fill="#111" stroke="#111" stroke-width="0.35">D</text>
<text transform="translate(350.20,235.86) scale(0.985,1)" font-size="10.10" font-weight="normal" fill="#161616" stroke="#161616" stroke-width="0.30">Collagen V peptide</text>
<text transform="translate(393.62,407.33) scale(0.860,1)" font-size="10.30" font-weight="normal" fill="#161616" stroke="#161616" stroke-width="0.15">Time (s)</text>
<text transform="translate(270.50,320.50) rotate(-90) scale(0.800,1)" x="-7.51" y="3.59" font-size="10.40" fill="#161616" stroke="#161616" stroke-width="0.15">RU</text>
<text transform="translate(489.56,250.01) scale(1.050,1)" font-size="7.00" font-weight="normal" fill="#161616" stroke="#161616" stroke-width="0.15">1mM</text>
<text transform="translate(482.94,355.79) scale(1.050,1)" font-size="7.10" font-weight="normal" fill="#161616" stroke="#161616" stroke-width="0.15">15.63&#181;M</text>
<line x1="497.30" y1="259.50" x2="497.30" y2="344.20" stroke="#1c1c1c" stroke-width="1.30"/>
<path d="M497.3,254.2 L494.7,260.9 L499.9,260.9 Z" fill="#1c1c1c"/>
<path d="M308.50,359.19 L308.95,359.46 L309.57,359.35 L310.32,359.57 L311.14,359.60 L312.00,359.15 L312.69,359.09 L313.49,359.70 L314.34,359.19 L315.19,359.12 L315.97,359.67 L316.63,359.21 L317.10,359.47" fill="none" stroke="#1c1c1c" stroke-width="1.70" stroke-linejoin="round" stroke-linecap="butt"/>
<path d="M317.10,359.08 L317.11,358.81 L317.11,358.07 L317.12,357.91 L317.13,357.54 L317.14,356.76 L317.14,356.31 L317.15,355.64 L317.16,354.59 L317.17,354.35 L317.18,353.53 L317.20,352.60 L317.21,351.67 L317.22,351.43 L317.23,350.39 L317.24,349.74 L317.26,349.03 L317.27,348.10 L317.28,347.41 L317.29,346.25 L317.31,345.68 L317.32,344.64 L317.33,344.14 L317.35,343.30 L317.36,342.01 L317.37,341.26 L317.39,340.55 L317.40,340.30 L317.41,339.26 L317.43,338.68 L317.44,337.77 L317.45,337.19 L317.46,336.41 L317.48,335.68 L317.49,335.12 L317.50,334.41 L317.52,333.90 L317.53,333.04 L317.55,332.48 L317.56,331.72 L317.57,331.09 L317.59,330.17 L317.60,329.12 L317.62,328.85 L317.63,328.20 L317.65,327.44 L317.66,326.50 L317.68,325.88 L317.69,324.84 L317.71,324.51 L317.72,323.63 L317.74,322.73 L317.75,321.87 L317.77,321.66 L317.78,321.03 L317.80,319.74 L317.82,319.47 L317.83,318.50 L317.85,317.59 L317.87,316.94 L317.88,316.50 L317.90,315.81 L317.92,314.52 L317.94,314.13 L317.96,313.00 L317.98,312.67 L317.99,311.66 L318.01,311.25 L318.03,310.56 L318.05,309.50 L318.07,309.07 L318.09,307.89 L318.11,307.01 L318.12,306.62 L318.14,305.54 L318.16,304.94 L318.18,304.38 L318.20,303.83 L318.22,302.87 L318.23,302.14 L318.25,302.04 L318.27,301.06 L318.28,300.87 L318.30,300.25 L318.33,299.00 L318.35,298.17 L318.38,297.37 L318.40,296.63 L318.43,295.82 L318.45,295.05 L318.48,294.37 L318.50,293.87 L318.52,292.92 L318.55,292.21 L318.57,291.76 L318.59,290.82 L318.61,290.25 L318.64,290.08 L318.66,289.19 L318.68,288.62 L318.70,287.69 L318.73,287.07 L318.75,286.36 L318.78,285.23 L318.80,284.89 L318.81,284.20 L318.84,283.16 L318.86,282.85 L318.88,282.08 L318.92,281.54 L318.95,280.63 L319.00,280.13 L319.05,279.46 L319.10,278.28 L319.16,277.57 L319.22,277.22 L319.29,276.66 L319.36,275.46 L319.43,274.86 L319.50,274.23 L319.57,273.36 L319.65,272.73 L319.72,272.07 L319.80,271.52 L319.93,270.74 L320.06,269.70 L320.19,268.98 L320.33,268.52 L320.47,267.38 L320.63,267.12 L320.80,266.65 L321.15,265.54 L321.54,264.84 L321.94,264.63 L322.30,263.63 L322.58,262.89 L322.81,262.31 L323.06,261.73 L323.40,260.55 L323.74,259.98 L324.13,259.21 L324.55,258.75 L325.01,257.77 L325.50,257.43 L326.14,256.37 L326.81,255.98 L327.56,255.79 L328.40,255.65 L329.04,255.23 L329.73,255.00 L330.46,254.89 L331.21,255.14 L331.97,254.95 L332.70,255.40 L333.42,255.50 L334.13,255.21 L334.85,255.43 L335.57,255.94 L336.28,256.02 L337.00,256.30 L337.74,256.18 L338.49,256.24 L339.25,256.55 L339.99,257.07 L340.68,256.91 L341.30,257.10 L342.04,257.30 L342.61,257.37 L344.00,257.54 L344.49,257.94 L345.05,257.52 L345.67,257.51 L346.35,258.21 L347.06,258.27 L347.81,258.44 L348.59,258.19 L349.38,258.63 L350.19,258.72 L351.00,258.37 L351.80,258.80 L352.59,258.95 L353.36,258.93 L354.10,258.91 L354.82,258.83 L355.54,258.93 L356.27,258.92 L356.99,258.88 L357.71,259.27 L358.43,259.13 L359.16,259.51 L359.88,259.07 L360.60,259.66 L361.32,259.57 L362.04,259.76 L362.76,259.78 L363.48,259.82 L364.20,259.65 L364.92,259.32 L365.65,259.83 L366.38,259.50 L367.12,259.61 L367.86,259.88 L368.59,259.82 L369.32,259.78 L370.05,260.14 L370.77,259.95 L371.48,259.79 L372.18,259.74 L372.87,260.14 L373.54,259.89 L374.20,260.08 L375.01,259.79 L375.80,259.66 L376.57,259.84 L377.33,259.97 L378.07,259.51 L378.79,259.84 L379.51,259.86 L380.21,259.72 L380.91,259.66 L381.61,259.06 L382.30,259.38 L383.05,259.44 L383.78,258.81 L384.49,258.83 L385.19,258.70 L385.88,258.73 L386.57,258.54 L387.26,258.45 L387.96,258.53 L388.67,257.95 L389.40,257.92 L390.15,257.92 L390.93,257.90 L391.72,257.86 L392.52,258.44 L393.32,258.38 L394.12,257.91 L394.89,258.20 L395.63,258.09 L396.34,258.09 L397.00,258.10 L397.82,258.27 L398.49,258.20 L399.10,258.03 L399.70,257.87 L400.35,257.90 L401.13,257.68 L402.10,257.84 L402.67,257.86 L403.28,257.56 L403.94,257.27 L404.62,257.22 L405.34,257.23 L406.08,257.26 L406.84,257.25 L407.62,256.87 L408.40,257.01 L409.18,256.78 L409.95,256.54 L410.72,256.40 L411.47,256.38 L412.20,256.43 L412.93,256.17 L413.67,256.28 L414.42,256.06 L415.18,255.86 L415.94,255.98 L416.70,256.03 L417.45,255.58 L418.19,255.75 L418.92,255.71 L419.63,255.96 L420.32,255.96 L420.98,255.57 L421.61,255.88 L422.20,255.79 L423.17,255.44 L424.08,255.60 L424.93,255.43 L425.72,255.94 L426.45,255.89 L427.12,256.06 L427.74,255.97 L428.30,255.81 L429.24,255.43 L429.93,254.70 L430.44,253.77 L430.80,253.66" fill="none" stroke="#1c1c1c" stroke-width="1.35" stroke-linejoin="round" stroke-linecap="butt"/>
<path d="M317.10,358.78 L317.13,358.47 L317.17,358.39 L317.21,357.35 L317.26,356.74 L317.32,356.05 L317.38,355.80 L317.44,354.58 L317.50,353.67 L317.56,353.38 L317.62,352.11 L317.69,351.76 L317.74,350.87 L317.80,350.22 L317.85,349.61 L317.90,348.71 L317.95,348.20 L318.00,347.06 L318.05,346.87 L318.09,346.05 L318.14,345.51 L318.19,344.43 L318.24,344.14 L318.29,343.53 L318.34,342.21 L318.39,341.59 L318.45,340.91 L318.50,340.21 L318.54,339.23 L318.57,338.55 L318.61,337.94 L318.65,337.50 L318.69,336.89 L318.72,335.95 L318.76,335.21 L318.80,334.49 L318.84,333.72 L318.88,333.01 L318.92,332.04 L318.96,331.55 L319.00,331.10 L319.04,329.98 L319.08,329.44 L319.11,328.32 L319.15,327.93 L319.19,327.25 L319.23,326.48 L319.26,325.69 L319.30,324.99 L319.34,324.32 L319.38,323.72 L319.42,322.48 L319.46,321.70 L319.50,321.37 L319.53,320.75 L319.57,319.76 L319.61,318.99 L319.64,318.45 L319.68,317.40 L319.72,316.74 L319.76,315.99 L319.79,315.54 L319.83,314.66 L319.87,313.91 L319.91,313.51 L319.96,312.98 L320.00,311.87 L320.05,311.40 L320.09,310.48 L320.14,310.04 L320.18,309.14 L320.23,308.22 L320.27,307.47 L320.32,306.63 L320.36,306.22 L320.41,305.45 L320.46,304.61 L320.52,304.03 L320.57,303.31 L320.63,302.91 L320.69,301.82 L320.76,301.67 L320.83,300.67 L320.90,300.06 L320.99,299.21 L321.08,298.68 L321.18,297.90 L321.29,296.97 L321.40,296.15 L321.51,295.55 L321.62,294.88 L321.74,293.85 L321.86,293.32 L321.98,292.74 L322.10,291.71 L322.23,290.85 L322.35,290.16 L322.48,289.80 L322.60,289.11 L322.76,288.49 L322.92,287.65 L323.10,286.49 L323.27,285.72 L323.45,285.04 L323.63,284.29 L323.80,283.93 L323.97,283.34 L324.14,282.70 L324.30,281.63 L324.46,281.37 L324.60,280.38 L324.77,279.61 L324.93,279.00 L325.07,277.79 L325.20,277.03 L325.33,276.75 L325.46,275.67 L325.59,275.00 L325.74,274.44 L325.90,273.81 L326.09,272.62 L326.29,272.06 L326.49,271.38 L326.71,270.68 L326.93,269.81 L327.17,269.40 L327.42,269.04 L327.70,268.13 L328.18,267.48 L328.71,266.60 L329.27,266.19 L329.87,266.00 L330.50,265.25 L331.17,265.41 L331.88,265.15 L332.62,264.43 L333.37,264.81 L334.10,264.32 L334.84,264.49 L335.61,264.45 L336.36,264.16 L337.07,264.44 L337.70,264.50 L338.47,264.82 L339.08,264.78 L339.90,265.36 L340.50,265.60 L341.12,265.50 L341.84,265.49 L342.77,265.29 L344.00,265.60 L344.54,265.53 L345.13,265.78 L345.77,265.77 L346.45,265.71 L347.16,265.48 L347.91,265.79 L348.68,265.79 L349.46,265.52 L350.25,265.99 L351.04,265.86 L351.83,265.54 L352.60,266.09 L353.36,265.62 L354.10,265.79 L354.82,266.09 L355.54,266.08 L356.27,266.12 L356.99,266.25 L357.71,266.20 L358.43,266.19 L359.16,266.19 L359.88,266.20 L360.60,266.71 L361.32,266.82 L362.04,266.77 L362.76,266.98 L363.48,266.83 L364.20,266.85 L364.92,267.01 L365.63,267.41 L366.35,266.96 L367.06,267.34 L367.77,267.27 L368.49,267.69 L369.20,267.51 L369.91,267.59 L370.63,267.72 L371.34,267.90 L372.05,268.13 L372.77,267.94 L373.48,268.34 L374.20,267.95 L374.92,268.13 L375.66,268.10 L376.40,268.19 L377.15,268.70 L377.90,268.75 L378.65,268.48 L379.39,268.56 L380.13,268.78 L380.87,269.07 L381.59,269.18 L382.29,269.20 L382.98,269.16 L383.65,268.93 L384.30,269.13 L385.10,269.05 L385.88,269.29 L386.65,269.33 L387.39,269.11 L388.11,269.14 L388.82,269.48 L389.50,269.00 L390.16,269.50 L390.80,269.58 L391.41,269.64 L392.00,269.33 L392.86,269.54 L393.62,269.71 L394.33,269.92 L394.99,270.31 L395.64,270.29 L396.30,270.18 L397.00,270.63 L397.68,270.43 L398.30,270.52 L398.92,270.58 L399.56,270.08 L400.28,270.53 L401.11,270.43 L402.10,270.29 L402.67,270.31 L403.28,270.25 L403.94,270.07 L404.62,270.26 L405.34,269.93 L406.08,270.21 L406.84,270.29 L407.62,270.14 L408.40,270.21 L409.18,270.46 L409.95,270.41 L410.72,269.93 L411.47,270.37 L412.20,270.28 L412.93,269.94 L413.67,270.18 L414.42,270.15 L415.18,270.11 L415.94,270.47 L416.70,270.79 L417.45,270.47 L418.19,270.90 L418.92,270.85 L419.63,270.56 L420.32,271.09 L420.98,270.98 L421.61,271.24 L422.20,271.14 L423.17,271.21 L424.08,271.01 L424.93,271.35 L425.72,271.46 L426.45,271.43 L427.12,271.15 L427.74,271.32 L428.30,271.09 L429.24,270.59 L429.93,270.16 L430.44,269.80 L430.80,269.61" fill="none" stroke="#1c1c1c" stroke-width="1.35" stroke-linejoin="round" stroke-linecap="butt"/>
<path d="M317.10,358.88 L317.19,358.68 L317.30,358.26 L317.44,357.51 L317.59,356.72 L317.75,356.08 L317.92,355.05 L318.10,354.32 L318.27,353.69 L318.44,352.67 L318.60,351.80 L318.76,351.56 L318.92,350.77 L319.09,349.87 L319.26,349.21 L319.43,348.64 L319.60,348.00 L319.76,347.07 L319.92,346.21 L320.06,345.59 L320.20,345.18 L320.30,344.10 L320.40,343.61 L320.49,342.74 L320.57,342.04 L320.65,341.28 L320.73,340.69 L320.81,339.78 L320.88,338.92 L320.96,338.19 L321.03,337.43 L321.12,336.82 L321.20,335.72 L321.27,335.02 L321.33,334.62 L321.40,333.90 L321.46,333.39 L321.52,332.27 L321.58,331.78 L321.64,331.05 L321.71,330.08 L321.78,329.94 L321.85,328.71 L321.93,327.87 L322.01,327.34 L322.10,326.37 L322.19,325.87 L322.30,324.90 L322.39,324.09 L322.50,323.35 L322.60,323.08 L322.71,322.08 L322.83,321.69 L322.95,320.76 L323.07,320.32 L323.20,319.18 L323.32,318.40 L323.46,317.67 L323.59,317.28 L323.72,316.42 L323.85,315.50 L323.98,314.60 L324.11,314.25 L324.25,313.71 L324.37,312.76 L324.50,311.68 L324.63,310.96 L324.77,310.26 L324.90,309.56 L325.04,308.73 L325.18,307.99 L325.32,307.63 L325.45,307.04 L325.59,305.86 L325.73,305.63 L325.87,304.59 L326.01,304.09 L326.14,303.47 L326.28,302.81 L326.41,301.57 L326.54,301.10 L326.67,300.67 L326.80,300.29 L326.99,298.85 L327.19,298.16 L327.38,297.73 L327.56,296.51 L327.75,295.97 L327.93,295.24 L328.11,294.78 L328.28,294.28 L328.46,293.13 L328.63,292.83 L328.80,292.15 L328.98,291.47 L329.16,290.54 L329.34,290.03 L329.51,288.94 L329.68,288.26 L329.85,287.43 L330.01,287.10 L330.18,286.24 L330.34,285.47 L330.50,284.79 L330.73,284.31 L330.95,283.45 L331.16,282.77 L331.37,281.85 L331.58,281.25 L331.79,280.39 L332.00,280.13 L332.27,278.90 L332.53,278.46 L332.79,277.98 L333.07,277.31 L333.40,276.34 L333.86,275.71 L334.36,275.43 L334.93,274.70 L335.60,274.34 L336.21,274.02 L336.88,273.49 L337.61,273.57 L338.38,273.30 L339.20,272.89 L339.87,272.82 L340.51,272.57 L341.19,272.74 L341.96,273.07 L342.88,272.49 L344.00,272.74 L344.56,272.42 L345.16,272.37 L345.81,272.70 L346.50,272.39 L347.22,272.23 L347.96,272.26 L348.72,272.53 L349.49,272.45 L350.28,272.05 L351.06,272.16 L351.84,272.61 L352.61,272.12 L353.37,272.33 L354.10,272.25 L354.82,272.49 L355.54,272.40 L356.27,272.55 L356.99,272.43 L357.71,272.25 L358.43,272.29 L359.16,272.28 L359.88,272.82 L360.60,272.42 L361.32,272.43 L362.04,273.10 L362.76,272.67 L363.48,273.18 L364.20,272.73 L364.92,273.05 L365.63,272.97 L366.35,273.43 L367.06,273.37 L367.77,273.47 L368.49,273.63 L369.20,273.79 L369.91,273.54 L370.63,273.79 L371.34,273.79 L372.05,273.66 L372.77,274.22 L373.48,274.16 L374.20,274.40 L374.92,274.11 L375.66,274.42 L376.40,274.48 L377.15,274.75 L377.90,274.44 L378.65,274.72 L379.39,274.92 L380.13,274.76 L380.87,275.18 L381.59,275.41 L382.29,275.32 L382.98,275.57 L383.65,275.66 L384.30,275.52 L385.08,275.74 L385.81,276.30 L386.51,276.01 L387.18,276.21 L387.83,276.13 L388.47,276.36 L389.12,276.47 L389.79,277.11 L390.49,277.13 L391.22,277.38 L392.00,277.61 L392.65,277.50 L393.32,277.85 L394.01,277.73 L394.71,277.80 L395.43,278.29 L396.16,278.41 L396.90,278.59 L397.65,278.45 L398.39,278.78 L399.14,278.69 L399.89,279.22 L400.64,279.31 L401.37,279.04 L402.10,279.58 L402.82,279.22 L403.54,279.28 L404.27,279.79 L404.99,279.62 L405.71,279.86 L406.43,280.04 L407.16,279.76 L407.88,280.31 L408.60,280.10 L409.32,280.31 L410.04,280.36 L410.76,280.72 L411.48,280.84 L412.20,280.66 L412.92,280.67 L413.65,280.94 L414.37,281.15 L415.11,281.08 L415.84,281.28 L416.57,281.82 L417.29,281.93 L418.02,282.26 L418.74,282.41 L419.45,282.49 L420.15,282.31 L420.85,282.32 L421.53,282.55 L422.20,282.78 L422.99,282.96 L423.81,283.12 L424.65,283.16 L425.49,283.62 L426.32,283.40 L427.13,283.65 L427.90,284.05 L428.62,284.13 L429.29,283.91 L429.88,283.98 L430.39,284.43 L430.80,283.99" fill="none" stroke="#1c1c1c" stroke-width="1.35" stroke-linejoin="round" stroke-linecap="butt"/>
<path d="M317.10,358.86 L317.24,358.70 L317.42,358.17 L317.63,357.31 L317.87,356.53 L318.13,355.86 L318.40,355.42 L318.68,354.40 L318.96,353.90 L319.24,352.96 L319.50,352.31 L319.72,351.07 L319.94,350.53 L320.16,349.78 L320.39,349.39 L320.62,348.68 L320.85,347.83 L321.08,347.48 L321.31,346.51 L321.54,345.97 L321.76,345.24 L321.98,344.90 L322.20,343.95 L322.39,343.19 L322.59,342.38 L322.77,341.96 L322.96,341.40 L323.14,340.75 L323.33,340.21 L323.51,339.44 L323.69,338.38 L323.87,337.61 L324.05,337.30 L324.23,336.61 L324.42,335.72 L324.60,335.21 L324.79,334.31 L324.97,333.40 L325.16,332.59 L325.35,331.74 L325.53,331.38 L325.72,330.79 L325.91,330.04 L326.09,329.01 L326.28,328.40 L326.46,327.84 L326.64,327.06 L326.82,326.23 L327.00,325.45 L327.21,324.75 L327.42,323.78 L327.62,323.07 L327.83,322.68 L328.03,322.19 L328.23,321.23 L328.43,320.47 L328.63,319.79 L328.82,319.22 L329.01,318.81 L329.20,317.97 L329.45,317.48 L329.69,316.19 L329.93,315.54 L330.16,314.95 L330.39,314.16 L330.62,313.72 L330.85,312.97 L331.10,312.28 L331.32,311.37 L331.55,310.27 L331.78,309.88 L332.01,309.12 L332.25,308.34 L332.49,307.47 L332.72,307.02 L332.96,306.44 L333.20,305.25 L333.47,304.86 L333.74,303.94 L334.01,303.31 L334.28,302.85 L334.56,302.20 L334.83,301.34 L335.11,300.41 L335.40,300.27 L335.79,299.03 L336.19,298.45 L336.60,298.07 L337.01,297.11 L337.41,296.46 L337.80,296.29 L338.23,295.58 L338.63,294.51 L339.03,293.91 L339.47,293.20 L340.00,292.46 L340.52,292.00 L341.10,291.93 L341.71,290.82 L342.35,290.38 L342.98,289.83 L343.60,289.23 L344.20,288.98 L344.80,288.58 L345.40,288.10 L346.00,287.44 L346.60,287.06 L347.20,286.08 L347.92,285.76 L348.64,285.73 L349.36,284.74 L350.08,284.48 L350.80,284.29 L351.51,283.87 L352.21,283.82 L352.91,283.31 L353.64,283.28 L354.40,283.59 L355.07,282.97 L355.76,283.37 L356.46,282.84 L357.19,283.31 L357.93,283.06 L358.70,282.99 L359.37,282.63 L360.04,282.53 L360.73,282.93 L361.43,282.53 L362.16,282.51 L362.91,282.90 L363.70,282.94 L364.31,282.42 L364.91,283.01 L365.50,282.76 L366.10,282.68 L366.74,282.53 L367.44,282.76 L368.20,283.21 L369.05,282.85 L370.00,282.86 L370.55,282.94 L371.14,283.01 L371.76,283.24 L372.41,283.69 L373.09,283.24 L373.79,283.42 L374.50,284.00 L375.23,284.15 L375.97,284.25 L376.72,283.90 L377.47,284.09 L378.23,284.60 L378.98,284.44 L379.73,284.71 L380.47,284.60 L381.19,284.55 L381.90,284.90 L382.60,285.31 L383.30,285.48 L384.00,285.51 L384.70,285.61 L385.40,285.83 L386.10,285.94 L386.80,286.18 L387.49,286.56 L388.19,286.34 L388.89,286.78 L389.59,287.18 L390.29,287.31 L390.99,287.07 L391.69,287.76 L392.40,287.86 L393.10,287.61 L393.80,287.85 L394.50,287.98 L395.21,288.06 L395.91,288.83 L396.62,288.64 L397.33,289.11 L398.03,288.80 L398.74,288.92 L399.45,289.64 L400.15,289.76 L400.86,290.06 L401.57,290.04 L402.27,290.10 L402.98,290.42 L403.69,290.16 L404.39,290.61 L405.10,290.70 L405.80,290.67 L406.50,291.12 L407.20,291.09 L407.91,291.36 L408.61,291.43 L409.31,291.54 L410.01,291.71 L410.71,292.01 L411.41,292.39 L412.11,292.51 L412.80,292.60 L413.50,292.72 L414.20,292.50 L414.90,293.08 L415.60,292.76 L416.30,292.80 L417.00,293.17 L417.70,293.45 L418.42,293.33 L419.16,293.66 L419.93,293.56 L420.72,294.14 L421.52,293.94 L422.32,294.09 L423.12,294.26 L423.92,294.61 L424.69,294.81 L425.45,294.64 L426.18,294.71 L426.87,294.93 L427.52,294.69 L428.13,295.01 L428.68,295.37 L429.17,295.41 L429.60,295.02 L431.04,295.75 L431.00,295.43" fill="none" stroke="#1c1c1c" stroke-width="1.35" stroke-linejoin="round" stroke-linecap="butt"/>
<path d="M317.10,359.41 L317.36,358.64 L317.68,358.06 L318.07,357.70 L318.51,357.28 L318.98,356.29 L319.47,355.83 L319.98,354.97 L320.50,353.98 L321.00,353.17 L321.35,352.77 L321.71,352.16 L322.08,351.58 L322.46,351.18 L322.84,350.74 L323.23,349.96 L323.63,349.07 L324.03,348.50 L324.43,347.97 L324.82,347.50 L325.22,346.56 L325.61,345.88 L326.00,345.39 L326.35,344.76 L326.70,344.00 L327.05,343.72 L327.40,343.35 L327.74,342.49 L328.09,342.00 L328.43,341.43 L328.78,340.80 L329.13,340.20 L329.49,339.24 L329.86,338.72 L330.23,337.67 L330.61,337.46 L331.00,336.42 L331.31,335.91 L331.63,335.57 L331.96,334.57 L332.30,333.87 L332.64,333.62 L332.99,332.82 L333.34,331.82 L333.69,331.11 L334.04,330.64 L334.40,329.75 L334.75,329.62 L335.10,328.55 L335.45,327.96 L335.79,327.41 L336.13,326.88 L336.46,326.24 L336.78,325.81 L337.10,325.30 L337.57,324.41 L338.03,323.47 L338.49,323.34 L338.94,322.50 L339.38,321.48 L339.82,321.10 L340.25,320.72 L340.66,320.32 L341.07,319.19 L341.46,318.65 L341.84,318.46 L342.20,317.95 L342.77,317.52 L343.28,316.86 L343.76,316.01 L344.20,315.57 L344.65,315.19 L345.11,314.89 L345.60,313.91 L346.06,313.51 L346.53,312.78 L347.01,312.59 L347.50,311.65 L347.99,311.69 L348.47,310.89 L348.94,310.42 L349.40,309.63 L349.99,309.14 L350.57,308.74 L351.14,308.47 L351.70,307.77 L352.25,307.13 L352.80,307.11 L353.46,306.35 L354.13,305.74 L354.78,305.02 L355.41,304.61 L356.00,304.56 L356.66,303.58 L357.26,303.42 L357.85,303.08 L358.50,302.51 L359.06,302.43 L359.64,302.18 L360.24,301.80 L360.89,301.39 L361.60,300.71 L362.25,300.34 L362.95,300.29 L363.69,299.93 L364.44,299.58 L365.18,299.76 L365.90,299.12 L366.61,299.28 L367.18,299.17 L367.81,298.49 L368.68,298.84 L370.00,298.33 L370.50,298.16 L371.04,298.07 L371.63,297.90 L372.26,298.12 L372.93,297.97 L373.62,298.19 L374.34,298.09 L375.09,297.52 L375.84,297.66 L376.61,297.58 L377.39,297.38 L378.16,297.37 L378.93,297.33 L379.70,297.56 L380.45,297.31 L381.19,297.15 L381.90,297.22 L382.60,297.38 L383.30,297.48 L384.00,297.31 L384.70,297.65 L385.40,297.40 L386.10,297.75 L386.80,297.79 L387.49,297.59 L388.19,298.04 L388.89,297.90 L389.59,298.09 L390.29,298.23 L390.99,298.35 L391.69,298.34 L392.40,298.20 L393.10,298.77 L393.80,298.93 L394.50,298.81 L395.21,298.99 L395.91,298.92 L396.62,299.46 L397.33,299.46 L398.03,299.31 L398.74,299.84 L399.45,300.10 L400.15,299.85 L400.86,300.42 L401.57,300.24 L402.27,300.20 L402.98,300.69 L403.69,300.60 L404.39,300.99 L405.10,301.03 L405.80,300.85 L406.50,301.24 L407.20,301.57 L407.91,301.45 L408.61,301.60 L409.31,301.93 L410.01,301.77 L410.71,301.91 L411.41,302.08 L412.11,302.34 L412.80,302.05 L413.50,302.08 L414.20,302.61 L414.90,302.57 L415.60,302.51 L416.30,302.97 L417.00,303.06 L417.70,302.93 L418.42,303.30 L419.16,303.28 L419.93,303.31 L420.72,303.09 L421.52,302.99 L422.32,303.49 L423.12,303.60 L423.92,303.42 L424.69,303.57 L425.45,303.69 L426.18,303.55 L426.87,303.89 L427.52,303.86 L428.13,303.80 L428.68,303.67 L429.17,303.99 L429.60,303.88 L431.04,304.31 L431.00,303.99" fill="none" stroke="#1c1c1c" stroke-width="1.35" stroke-linejoin="round" stroke-linecap="butt"/>
<path d="M317.10,359.03 L317.67,358.66 L318.50,358.43 L319.50,358.05 L320.05,357.46 L320.65,357.12 L321.29,357.06 L321.97,356.50 L322.67,356.28 L323.40,355.59 L323.97,355.15 L324.57,354.99 L325.19,354.78 L325.82,354.25 L326.46,353.53 L327.09,352.94 L327.70,352.22 L328.30,351.86 L328.88,351.37 L329.47,351.25 L330.04,350.19 L330.61,350.18 L331.17,349.35 L331.70,348.81 L332.22,348.20 L332.70,348.20 L333.28,347.15 L333.79,346.90 L334.26,346.40 L334.73,345.75 L335.23,345.31 L335.80,345.31 L336.34,344.74 L336.91,344.26 L337.51,343.91 L338.13,342.93 L338.75,342.85 L339.38,342.42 L340.00,341.62 L340.62,341.31 L341.25,341.18 L341.89,340.30 L342.53,340.11 L343.17,339.27 L343.79,339.14 L344.40,338.45 L345.09,338.12 L345.76,337.56 L346.41,337.41 L347.07,336.88 L347.73,336.26 L348.40,335.92 L348.99,335.35 L349.59,335.17 L350.19,334.41 L350.79,334.18 L351.39,333.80 L352.00,333.29 L352.60,332.71 L353.30,332.40 L354.00,332.33 L354.70,331.72 L355.40,331.73 L356.10,331.24 L356.80,331.19 L357.50,330.78 L358.20,330.36 L358.91,329.79 L359.61,329.25 L360.31,329.25 L361.00,329.06 L361.69,328.87 L362.37,328.12 L363.05,327.81 L363.73,328.06 L364.41,327.63 L365.10,327.19 L365.79,327.08 L366.49,326.43 L367.19,326.42 L367.90,326.23 L368.60,325.93 L369.30,325.38 L369.97,325.12 L370.61,325.18 L371.26,325.11 L371.93,324.39 L372.67,324.05 L373.50,323.83 L374.12,324.09 L374.80,323.63 L375.51,323.46 L376.26,323.59 L377.02,323.13 L377.79,322.70 L378.54,322.78 L379.29,322.15 L380.00,322.16 L380.77,322.26 L381.52,321.77 L382.26,321.54 L382.99,321.72 L383.73,321.49 L384.47,321.79 L385.22,321.14 L386.00,321.49 L386.70,321.15 L387.41,321.35 L388.13,321.05 L388.85,321.14 L389.58,320.87 L390.32,320.77 L391.07,320.89 L391.83,321.09 L392.60,320.80 L393.31,320.74 L394.05,320.88 L394.81,320.72 L395.58,320.90 L396.35,321.12 L397.12,321.16 L397.87,321.26 L398.61,321.13 L399.32,321.03 L400.00,321.10 L400.76,321.38 L401.42,321.37 L402.02,321.70 L402.62,321.60 L403.25,322.02 L403.96,322.02 L404.79,322.18 L405.80,322.35 L406.34,322.28 L406.92,322.29 L407.53,322.28 L408.18,322.20 L408.85,322.75 L409.55,322.64 L410.27,322.47 L411.00,323.08 L411.74,322.94 L412.50,323.05 L413.25,323.02 L414.01,322.90 L414.77,323.54 L415.52,323.08 L416.26,323.28 L416.99,323.76 L417.70,323.26 L418.42,323.56 L419.16,323.61 L419.93,323.52 L420.72,324.01 L421.51,323.74 L422.32,323.53 L423.11,323.88 L423.90,323.63 L424.68,324.13 L425.43,324.27 L426.16,324.34 L426.85,323.83 L427.51,324.28 L428.12,324.08 L428.67,324.22 L429.17,324.14 L429.60,324.18 L431.14,324.21 L431.20,324.58" fill="none" stroke="#1c1c1c" stroke-width="1.35" stroke-linejoin="round" stroke-linecap="butt"/>
<path d="M317.10,358.73 L317.59,359.32 L318.27,358.21 L319.07,358.71 L319.92,357.66 L320.76,357.22 L321.50,357.52 L322.27,357.03 L323.00,356.96 L323.70,356.46 L324.43,356.30 L325.20,355.52 L325.88,355.80 L326.58,355.39 L327.29,355.53 L328.03,354.40 L328.80,354.18 L329.60,354.46 L330.23,354.48 L330.89,353.83 L331.58,353.89 L332.28,353.55 L332.98,353.19 L333.67,353.06 L334.35,352.99 L335.00,352.28 L335.72,352.30 L336.42,352.48 L337.10,351.83 L337.77,351.81 L338.45,351.40 L339.12,351.28 L339.80,351.34 L340.49,351.22 L341.17,351.21 L341.86,350.58 L342.54,350.14 L343.23,350.06 L343.91,349.61 L344.60,349.57 L345.29,349.66 L345.97,349.46 L346.66,348.90 L347.34,348.62 L348.03,348.31 L348.71,348.15 L349.40,348.20 L350.09,347.74 L350.77,348.06 L351.46,347.53 L352.14,347.08 L352.83,346.91 L353.51,346.32 L354.20,346.71 L354.89,346.50 L355.57,345.93 L356.26,346.04 L356.94,345.41 L357.63,345.16 L358.31,344.96 L359.00,344.73 L359.68,344.90 L360.37,344.73 L361.05,344.61 L361.74,343.86 L362.42,344.28 L363.11,343.84 L363.80,343.59 L364.50,343.55 L365.20,343.35 L365.90,343.01 L366.60,343.06 L367.30,343.16 L368.00,343.11 L368.70,343.17 L369.51,342.39 L370.31,342.90 L371.11,342.70 L371.90,342.50 L372.70,342.63 L373.50,341.77 L374.28,342.25 L375.03,342.28 L375.78,341.50 L376.56,341.84 L377.39,342.08 L378.30,341.41 L378.96,341.87 L379.66,341.86 L380.39,341.39 L381.14,341.07 L381.91,341.09 L382.69,341.59 L383.47,341.16 L384.24,341.00 L385.00,341.05 L385.74,341.40 L386.47,340.70 L387.20,340.39 L387.93,341.12 L388.66,340.45 L389.41,340.41 L390.18,340.85 L390.97,340.15 L391.80,339.93 L392.44,340.63 L393.11,340.03 L393.79,340.01 L394.48,340.65 L395.19,340.02 L395.90,340.64 L396.62,340.15 L397.34,340.14 L398.06,340.08 L398.78,340.40 L399.49,340.44 L400.20,340.31 L400.90,340.42 L401.60,340.26 L402.30,340.76 L403.00,340.87 L403.71,340.73 L404.41,340.82 L405.11,340.17 L405.81,340.36 L406.51,340.35 L407.21,340.33 L407.90,341.09 L408.60,341.06 L409.36,341.11 L410.11,340.82 L410.87,340.46 L411.62,340.79 L412.37,340.49 L413.13,341.30 L413.88,340.76 L414.63,340.82 L415.39,341.45 L416.14,340.80 L416.90,341.48 L417.60,340.95 L418.32,341.28 L419.05,340.79 L419.79,341.50 L420.52,341.06 L421.25,341.01 L421.97,341.29 L422.68,341.24 L423.37,340.94 L424.04,340.83 L424.69,341.25 L425.30,340.77 L426.20,341.57 L427.09,341.15 L427.95,341.05 L428.78,341.25 L429.53,341.12 L430.20,341.36 L430.76,341.61 L431.20,341.52" fill="none" stroke="#1c1c1c" stroke-width="2.00" stroke-linejoin="round" stroke-linecap="butt"/>
<path d="M431.70,280.86 L431.79,281.29 L431.91,282.07 L432.06,283.10 L432.26,283.78 L432.50,285.23 L432.62,285.57 L432.74,285.93 L432.87,286.71 L433.01,288.06 L433.15,288.57 L433.31,289.32 L433.47,290.26 L433.64,291.36 L433.81,291.74 L434.00,292.46 L434.20,293.12 L434.40,293.39 L434.81,294.77 L435.23,295.46 L435.67,296.08 L436.19,296.55 L436.78,297.02 L437.50,297.68 L438.06,297.53 L438.69,298.45 L439.37,297.94 L440.09,298.78 L440.83,298.38 L441.59,299.08 L442.35,298.81 L443.09,298.84 L443.80,299.43 L444.47,299.89 L445.11,300.11 L445.73,300.34 L446.35,300.63 L446.99,300.06 L447.66,300.54 L448.37,300.53 L449.14,301.29 L450.00,301.26 L450.60,301.66 L451.24,301.86 L451.91,302.19 L452.62,302.09 L453.34,302.43 L454.08,302.33 L454.84,302.11 L455.60,302.96 L456.36,302.45 L457.12,302.61 L457.87,303.39 L458.60,303.07 L459.31,303.52 L460.00,303.10 L460.75,303.38 L461.45,303.91 L462.10,303.44 L462.74,303.92 L463.36,304.36 L463.99,303.82 L464.65,304.30 L465.34,304.39 L466.09,304.34 L466.90,304.52 L467.80,304.51 L468.80,303.99 L469.38,304.17 L470.01,304.48 L470.69,304.87 L471.42,304.27 L472.18,304.60 L472.97,304.24 L473.79,304.86 L474.62,304.55 L475.47,304.63 L476.32,304.77 L477.17,304.34 L478.02,304.86 L478.86,304.93 L479.68,305.00 L480.48,304.53 L481.25,304.50 L481.98,304.46 L482.67,305.08 L483.31,304.71 L483.90,304.68 L484.44,304.80 L484.90,304.96 L485.30,304.65" fill="none" stroke="#1c1c1c" stroke-width="1.30" stroke-linejoin="round" stroke-linecap="butt"/>
<path d="M432.30,289.86 L432.37,290.73 L432.47,291.44 L432.58,291.87 L432.70,292.59 L432.85,294.23 L433.02,294.93 L433.20,295.58 L433.41,296.21 L433.61,297.43 L433.84,297.70 L434.13,298.19 L434.50,298.71 L435.00,299.47 L435.50,300.10 L436.05,300.27 L436.66,301.08 L437.34,301.12 L438.11,301.23 L439.00,301.66 L440.00,301.89 L440.57,302.04 L441.20,302.07 L441.88,302.24 L442.60,302.35 L443.35,302.77 L444.13,302.36 L444.92,302.99 L445.71,302.71 L446.50,303.29 L447.27,302.75 L448.01,303.20 L448.72,303.27 L449.39,303.59 L450.00,303.25 L450.82,303.42 L451.51,303.40 L452.10,303.84 L452.65,303.91 L453.20,303.48 L453.79,303.68 L454.47,303.74 L455.30,304.43 L456.30,304.06 L456.84,304.18 L457.42,303.98 L458.03,304.32 L458.67,304.48 L459.34,304.39 L460.02,303.85 L460.74,304.25 L461.46,304.32 L462.21,303.97 L462.97,304.63 L463.74,304.26 L464.52,304.26 L465.30,304.57 L466.09,304.56 L466.88,304.51 L467.67,304.84 L468.45,304.57 L469.23,304.45 L470.00,304.23 L470.71,304.66 L471.46,304.52 L472.24,304.69 L473.04,304.55 L473.86,304.28 L474.70,304.32 L475.55,304.44 L476.40,304.40 L477.25,305.05 L478.09,304.84 L478.92,304.57 L479.73,304.98 L480.52,304.93 L481.27,304.46 L482.00,305.05 L482.68,304.63 L483.32,305.28 L483.90,304.57 L484.43,304.70 L484.90,304.68 L485.30,305.20" fill="none" stroke="#1c1c1c" stroke-width="1.30" stroke-linejoin="round" stroke-linecap="butt"/>
<path d="M432.30,294.27 L432.42,294.55 L432.56,294.86 L432.72,295.88 L432.92,296.97 L433.17,297.30 L433.46,298.84 L433.80,299.49 L434.19,300.19 L434.62,300.59 L435.10,301.09 L435.62,301.92 L436.19,301.83 L436.82,302.32 L437.50,302.58 L438.09,302.92 L438.73,303.70 L439.41,303.34 L440.13,304.10 L440.86,303.99 L441.61,304.57 L442.36,304.63 L443.09,304.72 L443.80,304.99 L444.58,304.46 L445.35,304.78 L446.13,304.98 L446.90,305.13 L447.67,305.41 L448.45,305.65 L449.22,305.57 L450.00,305.76 L450.66,305.57 L451.25,305.26 L451.82,305.34 L452.39,305.49 L452.99,305.48 L453.65,305.04 L454.40,304.97 L455.27,305.13 L456.30,304.77 L456.84,305.31 L457.42,304.56 L458.03,305.09 L458.67,304.94 L459.34,304.69 L460.02,304.99 L460.74,304.91 L461.46,305.31 L462.21,305.24 L462.97,304.98 L463.74,305.22 L464.52,305.22 L465.30,304.62 L466.09,305.17 L466.88,305.18 L467.67,305.31 L468.45,305.11 L469.23,304.81 L470.00,304.65 L470.71,305.03 L471.46,304.67 L472.24,305.13 L473.04,304.98 L473.86,305.20 L474.70,304.82 L475.55,304.79 L476.40,305.30 L477.25,305.11 L478.09,304.89 L478.92,305.05 L479.73,304.96 L480.52,305.15 L481.27,305.05 L482.00,304.87 L482.68,305.46 L483.32,305.39 L483.90,305.30 L484.43,304.90 L484.90,304.84 L485.30,305.29" fill="none" stroke="#1c1c1c" stroke-width="1.30" stroke-linejoin="round" stroke-linecap="butt"/>
<path d="M432.30,298.27 L432.57,298.58 L432.91,298.85 L433.34,300.03 L433.83,300.65 L434.39,301.27 L435.00,302.07 L435.57,302.40 L436.17,302.98 L436.82,303.45 L437.53,304.00 L438.29,303.59 L439.11,304.28 L440.00,304.87 L440.61,304.80 L441.24,304.90 L441.91,305.28 L442.60,304.73 L443.32,305.50 L444.06,305.48 L444.82,305.56 L445.59,305.43 L446.38,305.77 L447.19,305.43 L448.00,305.82 L448.65,305.63 L449.31,306.21 L449.97,306.11 L450.65,305.83 L451.34,306.06 L452.04,305.73 L452.75,305.82 L453.47,305.49 L454.20,306.04 L454.94,305.93 L455.69,305.89 L456.45,305.30 L457.22,305.89 L458.00,305.19 L458.65,305.64 L459.30,305.56 L459.96,305.19 L460.62,305.48 L461.28,305.86 L461.95,305.62 L462.63,305.35 L463.32,305.75 L464.02,305.35 L464.72,305.79 L465.44,305.36 L466.17,305.07 L466.91,305.80 L467.66,305.02 L468.42,305.15 L469.20,305.56 L470.00,304.98 L470.67,305.31 L471.39,305.55 L472.15,305.29 L472.93,305.05 L473.75,305.36 L474.58,305.38 L475.42,305.14 L476.27,305.14 L477.13,304.84 L477.98,304.87 L478.82,305.32 L479.64,305.27 L480.44,304.41 L481.21,304.54 L481.95,304.53 L482.64,304.97 L483.29,304.44 L483.89,304.39 L484.43,304.86 L484.90,304.34 L485.30,305.00" fill="none" stroke="#1c1c1c" stroke-width="1.30" stroke-linejoin="round" stroke-linecap="butt"/>
<path d="M431.90,307.37 L432.28,307.70 L432.74,307.72 L433.29,307.40 L433.92,307.85 L434.65,307.71 L435.48,307.69 L436.43,307.69 L437.50,308.23 L438.06,308.20 L438.65,308.10 L439.29,308.51 L439.97,308.18 L440.67,308.41 L441.40,308.26 L442.16,308.51 L442.93,308.94 L443.71,308.77 L444.51,308.63 L445.31,308.77 L446.11,309.11 L446.91,308.96 L447.71,309.43 L448.49,308.98 L449.25,309.57 L450.00,309.48 L450.74,309.67 L451.47,309.44 L452.21,309.32 L452.94,309.45 L453.68,309.80 L454.41,309.48 L455.15,309.59 L455.88,310.08 L456.62,310.20 L457.35,310.25 L458.09,310.29 L458.82,310.16 L459.56,310.42 L460.29,310.37 L461.03,310.33 L461.76,310.30 L462.50,310.10 L463.24,310.19 L463.98,310.34 L464.73,310.53 L465.49,310.36 L466.24,310.95 L467.00,310.75 L467.76,310.90 L468.51,311.05 L469.26,310.67 L470.01,311.13 L470.75,311.23 L471.48,310.83 L472.21,310.78 L472.93,311.26 L473.63,311.36 L474.32,311.35 L475.00,311.14 L475.83,311.32 L476.68,311.06 L477.54,311.20 L478.40,311.38 L479.26,311.64 L480.11,311.28 L480.93,311.87 L481.72,311.35 L482.47,312.01 L483.17,311.59 L483.81,312.00 L484.39,312.04 L484.89,312.16 L485.30,311.88" fill="none" stroke="#1c1c1c" stroke-width="1.30" stroke-linejoin="round" stroke-linecap="butt"/>
<path d="M432.30,325.83 L432.69,325.59 L433.16,325.96 L433.70,325.53 L434.30,326.05 L434.95,325.90 L435.65,325.60 L436.39,326.21 L437.17,325.85 L437.97,325.73 L438.79,325.90 L439.62,325.79 L440.45,325.99 L441.28,326.30 L442.10,326.51 L442.74,326.31 L443.39,326.47 L444.05,326.48 L444.72,326.43 L445.40,326.24 L446.09,326.17 L446.79,326.13 L447.51,326.40 L448.23,326.20 L448.95,326.57 L449.69,326.32 L450.43,326.51 L451.18,326.51 L451.93,326.58 L452.69,326.30 L453.46,326.39 L454.23,326.69 L455.00,326.42 L455.67,326.73 L456.35,326.95 L457.03,326.61 L457.72,327.00 L458.42,326.81 L459.12,327.05 L459.83,326.81 L460.55,326.98 L461.27,326.97 L461.99,326.69 L462.71,326.93 L463.44,327.00 L464.17,326.95 L464.90,327.11 L465.63,327.30 L466.36,327.26 L467.09,327.30 L467.82,326.89 L468.55,327.28 L469.28,327.26 L470.00,327.48 L470.74,326.91 L471.51,327.04 L472.30,327.58 L473.12,327.21 L473.95,327.45 L474.80,327.40 L475.64,327.30 L476.49,327.35 L477.34,327.45 L478.17,327.74 L479.00,327.47 L479.80,327.65 L480.57,327.36 L481.32,327.64 L482.03,327.59 L482.71,327.69 L483.34,327.79 L483.91,327.30 L484.44,327.88 L484.90,327.66 L485.30,327.45" fill="none" stroke="#1c1c1c" stroke-width="1.30" stroke-linejoin="round" stroke-linecap="butt"/>
<path d="M432.30,342.37 L432.69,342.05 L433.16,342.19 L433.70,342.75 L434.30,342.66 L434.95,342.82 L435.65,342.21 L436.39,342.18 L437.17,342.45 L437.97,342.58 L438.79,342.80 L439.62,342.46 L440.45,342.87 L441.28,342.76 L442.10,342.51 L442.74,342.97 L443.39,342.34 L444.05,342.83 L444.72,342.48 L445.40,342.36 L446.09,342.77 L446.79,342.82 L447.51,342.91 L448.23,342.71 L448.95,343.22 L449.69,343.10 L450.43,342.55 L451.18,342.42 L451.93,343.29 L452.69,342.81 L453.46,342.54 L454.23,342.61 L455.00,343.08 L455.67,342.61 L456.35,342.79 L457.03,343.06 L457.72,342.77 L458.42,343.03 L459.12,343.29 L459.83,343.15 L460.55,342.99 L461.27,342.99 L461.99,342.69 L462.71,342.99 L463.44,342.99 L464.17,342.92 L464.90,342.83 L465.63,343.06 L466.36,342.56 L467.09,343.01 L467.82,343.24 L468.55,342.39 L469.28,342.58 L470.00,343.24 L470.74,342.42 L471.51,343.08 L472.30,342.87 L473.12,342.41 L473.95,342.91 L474.80,342.35 L475.64,343.11 L476.49,342.61 L477.34,343.17 L478.17,343.15 L479.00,342.47 L479.80,342.71 L480.57,342.48 L481.32,343.03 L482.03,342.43 L482.71,342.41 L483.34,342.45 L483.91,343.12 L484.44,342.57 L484.90,342.64 L485.30,342.75" fill="none" stroke="#1c1c1c" stroke-width="2.00" stroke-linejoin="round" stroke-linecap="butt"/>
<line x1="317.00" y1="350.50" x2="317.00" y2="367.00" stroke="#1c1c1c" stroke-width="1.50"/>
<line x1="431.70" y1="280.60" x2="431.70" y2="352.00" stroke="#1c1c1c" stroke-width="1.40"/>
</svg></body></html>
